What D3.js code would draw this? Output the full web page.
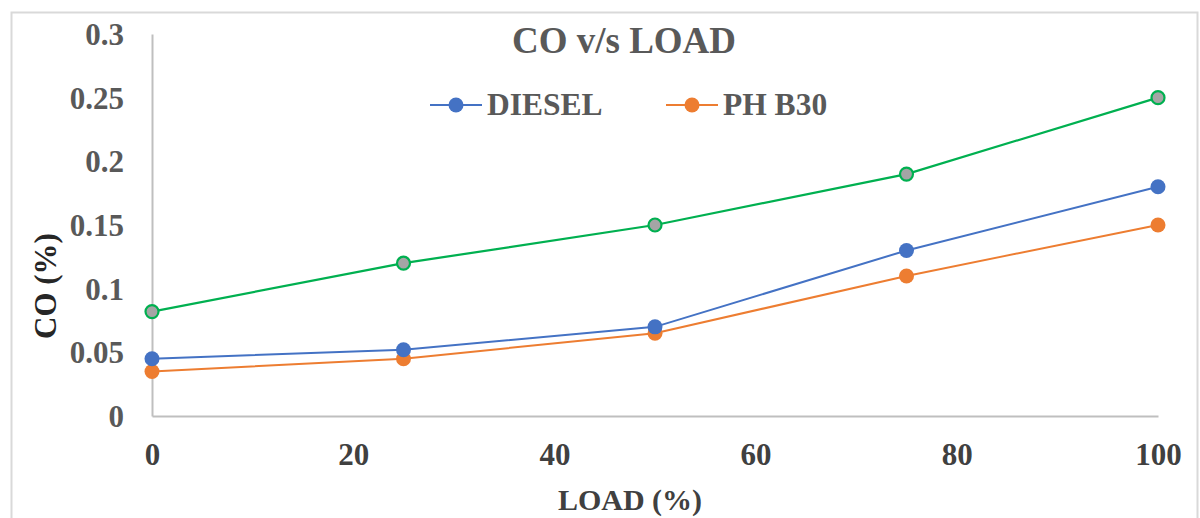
<!DOCTYPE html>
<html>
<head>
<meta charset="utf-8">
<script src="https://cdn.jsdelivr.net/npm/d3@7"></script>
<style>
  html, body { margin: 0; padding: 0; background: #fff; }
  svg { display: block; font-family: "Liberation Serif", "Times New Roman", serif; font-weight: bold; }
</style>
</head>
<body>
<svg id="chart" width="1200" height="518"></svg>
<script>
// Engine load steps (%)
const loads = [0, 25, 50, 75, 100];
// CO emissions (%) per fuel
const diesel = [0.045, 0.052, 0.07, 0.13, 0.18];
const phB30 = [0.035, 0.045, 0.065, 0.11, 0.15];
const blend = [0.082, 0.12, 0.15, 0.19, 0.25];
// Axis ticks
const xTicks = [0, 20, 40, 60, 80, 100];
const yTicks = [0, 0.05, 0.1, 0.15, 0.2, 0.25, 0.3];

const svg = d3.select("#chart");

// outer chart frame
svg.append("rect")
  .attr("x", 11.5).attr("y", 12.5)
  .attr("width", 1186).attr("height", 520)
  .attr("fill", "#fff").attr("stroke", "#d9d9d9").attr("stroke-width", 2);

const x = d3.scaleLinear().domain([0, 100]).range([152, 1158]);
const y = d3.scaleLinear().domain([0, 0.3]).range([416, 34]);

// axes
const yAxis = svg.append("g").attr("transform", `translate(${x(0)},0)`)
  .call(d3.axisLeft(y).tickValues(yTicks).tickSize(0).tickPadding(28)
    .tickFormat(d => d === 0 ? "0" : String(+d.toFixed(2))));
yAxis.select(".domain").attr("stroke", "#bfbfbf").attr("stroke-width", 2);
yAxis.selectAll("text").attr("fill", "#595959").style("font-size", "31px")
  .attr("dy", "0.34em").style("font-family", "Liberation Serif").style("font-weight", "bold");

const xAxis = svg.append("g").attr("transform", `translate(0,${y(0)})`)
  .call(d3.axisBottom(x).tickValues(xTicks).tickSize(0).tickPadding(27));
xAxis.select(".domain").attr("stroke", "#bfbfbf").attr("stroke-width", 2);
xAxis.selectAll("text").attr("fill", "#404040").style("font-size", "31px")
  .attr("dy", "0.71em").style("font-family", "Liberation Serif").style("font-weight", "bold");

// series
const series = [
  { name: "blend", values: blend, stroke: "#00b050", fill: "#a5a5a5", width: 2.25, r: 6.5, ring: 2.2 },
  { name: "PH B30", values: phB30, stroke: "#ed7d31", fill: "#ed7d31", width: 2, r: 7.5, ring: 0 },
  { name: "DIESEL", values: diesel, stroke: "#4472c4", fill: "#4472c4", width: 2, r: 7.5, ring: 0 }
];
const line = d3.line().x((d, i) => x(loads[i])).y(d => y(d));

series.forEach(s => {
  svg.append("path").datum(s.values)
    .attr("d", line).attr("fill", "none")
    .attr("stroke", s.stroke).attr("stroke-width", s.width);
});
// markers (blue drawn over orange)
series.forEach(s => {
  svg.append("g").selectAll("circle").data(s.values).join("circle")
    .attr("cx", (d, i) => x(loads[i])).attr("cy", d => y(d))
    .attr("r", s.r).attr("fill", s.fill)
    .attr("stroke", s.ring ? s.stroke : "none").attr("stroke-width", s.ring);
});

// title
svg.append("text").attr("x", 624).attr("y", 53).attr("text-anchor", "middle")
  .attr("fill", "#595959").style("font-size", "37px").text("CO v/s LOAD");

// legend
const legend = [
  { label: "DIESEL", color: "#4472c4", x0: 430 },
  { label: "PH B30", color: "#ed7d31", x0: 666 }
];
legend.forEach(l => {
  const g = svg.append("g");
  g.append("line").attr("x1", l.x0).attr("x2", l.x0 + 52).attr("y1", 105).attr("y2", 105)
    .attr("stroke", l.color).attr("stroke-width", 2);
  g.append("circle").attr("cx", l.x0 + 26).attr("cy", 105).attr("r", 7.5).attr("fill", l.color);
  g.append("text").attr("x", l.x0 + 57).attr("y", 115).attr("fill", "#595959")
    .style("font-size", "31.5px").text(l.label);
});

// axis titles
svg.append("text").attr("transform", "translate(56,286) rotate(-90)")
  .attr("text-anchor", "middle").attr("fill", "#262626").style("font-size", "31px").text("CO (%)");
svg.append("text").attr("x", 630).attr("y", 510).attr("text-anchor", "middle")
  .attr("fill", "#404040").style("font-size", "30px").text("LOAD (%)");
</script>
</body>
</html>
